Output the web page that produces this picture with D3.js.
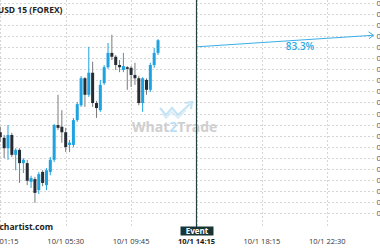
<!DOCTYPE html>
<html>
<head>
<meta charset="utf-8">
<script src="https://cdn.jsdelivr.net/npm/d3@7"></script>
<style>
  body { margin: 0; background: #fff; }
  svg { display: block; font-family: "Open Sans", sans-serif; }
  .grid line { stroke: #d6d6d6; stroke-dasharray: 2,2; }
</style>
</head>
<body>
<div id="vis"></div>
<script>
// 15 minute candles, slot 0 = 10/1 01:15
const opens  = [0.70546,0.70536,0.70517,0.70541,0.70505,0.70514,0.70490,0.70490,0.70456,0.70461,
                0.70441,0.70474,0.70450,0.70474,0.70496,0.70559,0.70556,0.70546,0.70523,0.70523,
                0.70568,0.70595,0.70644,0.70614,0.70654,0.70599,0.70586,0.70635,0.70664,0.70690,
                0.70683,0.70668,0.70659,0.70664,0.70663,0.70650,0.70644,0.70599,0.70641,0.70623,
                0.70668,0.70690];
const highs  = [0.70556,0.70541,0.70559,0.70545,0.70517,0.70517,0.70499,0.70496,0.70467,0.70465,
                0.70474,0.70477,0.70481,0.70501,0.70561,0.70614,0.70586,0.70554,0.70532,0.70572,
                0.70601,0.70648,0.70646,0.70701,0.70674,0.70603,0.70641,0.70668,0.70708,0.70723,
                0.70686,0.70677,0.70690,0.70666,0.70666,0.70672,0.70648,0.70646,0.70644,0.70672,
                0.70699,0.70715];
const lows   = [0.70528,0.70499,0.70496,0.70501,0.70477,0.70454,0.70472,0.70450,0.70445,0.70418,
                0.70434,0.70448,0.70441,0.70468,0.70492,0.70550,0.70527,0.70510,0.70510,0.70519,
                0.70565,0.70592,0.70592,0.70610,0.70592,0.70572,0.70583,0.70632,0.70661,0.70677,
                0.70659,0.70655,0.70655,0.70623,0.70628,0.70632,0.70595,0.70583,0.70614,0.70619,
                0.70663,0.70686];
const closes = [0.70537,0.70517,0.70541,0.70505,0.70514,0.70490,0.70496,0.70458,0.70463,0.70436,
                0.70470,0.70454,0.70477,0.70496,0.70559,0.70554,0.70546,0.70519,0.70527,0.70568,
                0.70597,0.70644,0.70614,0.70654,0.70599,0.70590,0.70632,0.70664,0.70690,0.70683,
                0.70668,0.70664,0.70666,0.70661,0.70650,0.70644,0.70599,0.70644,0.70623,0.70668,
                0.70690,0.70713];

// x axis ticks (slot numbers) and their labels
const xTickSlots  = [0, 17, 34, 51, 68, 85];
const xTickLabels = ["10/1 01:15", "10/1 05:30", "10/1 09:45", "", "10/1 18:15", "10/1 22:30"];

// y axis ticks
const yTicks = [0.7040,0.7042,0.7044,0.7046,0.7048,0.7050,0.7052,0.7054,0.7056,0.7058,
                0.7060,0.7062,0.7064,0.7066,0.7068,0.7070,0.7072,0.7074,0.7076,0.7078];

// event and forecast
const eventSlot = 51;
const eventLabel = "10/1 14:15";
const forecastSlots  = [51, 97];
const forecastPrices = [0.70701, 0.70722];
const forecastText = "83.3%";

const title = "AUDUSD 15 (FOREX)";
const credit = "Autochartist.com";

const W = 380, H = 250;
const upColor = "#1fa2e0", downColor = "#262c33", eventColor = "#25403f";

const svg = d3.select('#vis').append('svg')
    .attr('width', W)
    .attr('height', H);

const x = d3.scaleLinear().domain([0, 85]).range([0.3, 327.3]);
const y = d3.scaleLinear().domain([0.7040, 0.7078]).range([212.7, 3.3]);

// grid
const grid = svg.append('g').attr('class', 'grid');
grid.selectAll('.hg').data(yTicks).join('line')
    .attr('x1', 0).attr('x2', 375)
    .attr('y1', d => Math.round(y(d)) + 0.5)
    .attr('y2', d => Math.round(y(d)) + 0.5);
grid.selectAll('.vg').data(xTickSlots).join('line')
    .attr('x1', d => Math.round(x(d)) + 0.5)
    .attr('x2', d => Math.round(x(d)) + 0.5)
    .attr('y1', 0).attr('y2', 226);

// y labels (mostly off the right edge)
svg.append('g').selectAll('text').data(yTicks).join('text')
    .attr('x', 376.5)
    .attr('y', d => y(d) + 3)
    .attr('font-size', 8)
    .attr('fill', '#555')
    .text(d => d.toFixed(4));

// watermark
const wm = svg.append('g').attr('opacity', 0.9);
wm.append('path')
    .attr('d', 'M160,108 L166,115 L172,108 L178,115 L190,104')
    .attr('fill', 'none').attr('stroke', '#bfe2f4').attr('stroke-width', 2.2);
wm.append('path')
    .attr('d', 'M162,113 L166,118 L172,112 L178,118 L186,110')
    .attr('fill', 'none').attr('stroke', '#d3ebf7').attr('stroke-width', 1.6);
wm.append('path')
    .attr('d', 'M185,103 L192,102 L191,109')
    .attr('fill', 'none').attr('stroke', '#bfe2f4').attr('stroke-width', 2.2);
const wt = wm.append('text')
    .attr('x', 132).attr('y', 132)
    .attr('font-size', 14).attr('font-weight', 700)
    .attr('fill', '#cacaca');
wt.append('tspan').text('What');
wt.append('tspan').attr('fill', '#b4dcf1').text('2');
wt.append('tspan').text('Trade');

// candles
const candles = opens.map((o, i) => ({slot: i, o: o, h: highs[i], l: lows[i], c: closes[i]}));
const cg = svg.append('g');
cg.selectAll('.wick').data(candles).join('line')
    .attr('x1', d => x(d.slot)).attr('x2', d => x(d.slot))
    .attr('y1', d => y(d.h)).attr('y2', d => y(d.l))
    .attr('stroke', d => d.c >= d.o ? upColor : '#7a7a7a')
    .attr('stroke-width', 1);
cg.selectAll('.body').data(candles).join('rect')
    .attr('x', d => x(d.slot) - 1.5)
    .attr('width', 3)
    .attr('y', d => y(Math.max(d.o, d.c)))
    .attr('height', d => Math.max(1, Math.abs(y(d.o) - y(d.c))))
    .attr('fill', d => d.c >= d.o ? upColor : downColor);

// forecast arrow
const fx = forecastSlots.map(x), fy = forecastPrices.map(y);
svg.append('line')
    .attr('x1', fx[0]).attr('y1', fy[0])
    .attr('x2', fx[1]).attr('y2', fy[1])
    .attr('stroke', '#3aaee6').attr('stroke-width', 1);
svg.append('path')
    .attr('d', `M${fx[1] - 5},${fy[1] - 3.5} L${fx[1]},${fy[1]} L${fx[1] - 4.5},${fy[1] + 3.5}`)
    .attr('fill', 'none').attr('stroke', '#3aaee6').attr('stroke-width', 1);
svg.append('text')
    .attr('x', (fx[0] + fx[1]) / 2 + 15)
    .attr('y', (fy[0] + fy[1]) / 2 + 9)
    .attr('text-anchor', 'middle')
    .attr('font-size', 10).attr('font-weight', 600)
    .attr('fill', '#2ea8e3')
    .text(forecastText);

// event line + label
const ex = Math.round(x(eventSlot)) - 0.5;
svg.append('line')
    .attr('x1', ex).attr('x2', ex)
    .attr('y1', 0).attr('y2', 228)
    .attr('stroke', eventColor).attr('stroke-width', 1.2);
svg.append('rect')
    .attr('x', ex - 16).attr('y', 226.5)
    .attr('width', 33).attr('height', 9)
    .attr('fill', '#173536');
svg.append('text')
    .attr('x', ex + 0.5).attr('y', 234)
    .attr('text-anchor', 'middle')
    .attr('font-size', 8).attr('font-weight', 700)
    .attr('fill', '#fff')
    .text('Event');

// x labels
svg.append('g').selectAll('text').data(xTickSlots).join('text')
    .attr('x', d => x(d))
    .attr('y', 244)
    .attr('text-anchor', 'middle')
    .attr('font-size', 7.5)
    .attr('fill', '#333')
    .text((d, i) => xTickLabels[i]);
svg.append('text')
    .attr('x', ex).attr('y', 244)
    .attr('text-anchor', 'middle')
    .attr('font-size', 7.5).attr('font-weight', 700)
    .attr('fill', '#1a1a1a')
    .text(eventLabel);

// title and credit
svg.append('text')
    .attr('x', 62.5).attr('y', 13)
    .attr('text-anchor', 'end')
    .attr('font-size', 8.5).attr('font-weight', 700)
    .attr('fill', '#222')
    .text(title);
svg.append('text')
    .attr('x', 53).attr('y', 230)
    .attr('text-anchor', 'end')
    .attr('font-size', 8.5).attr('font-weight', 700)
    .attr('fill', '#222')
    .text(credit);
</script>
</body>
</html>
